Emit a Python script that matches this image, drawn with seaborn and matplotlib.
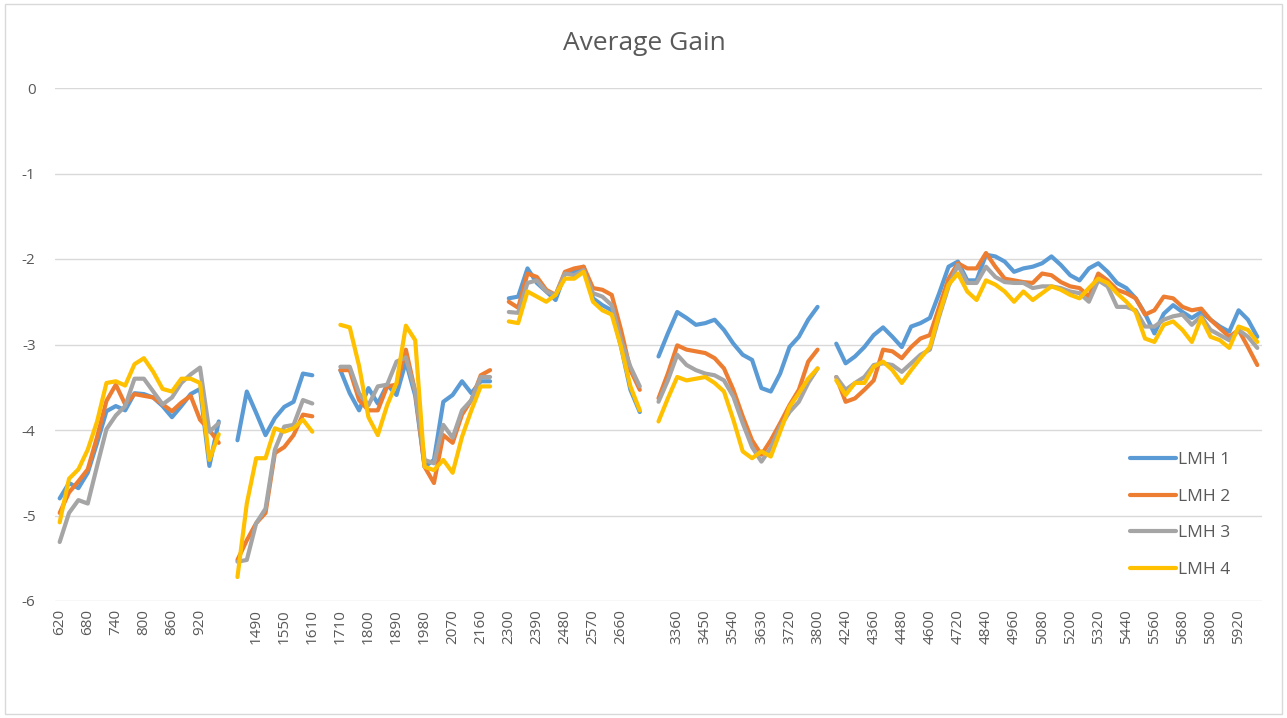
import numpy as np
import pandas as pd
import matplotlib.pyplot as plt
import seaborn as sns
from matplotlib.patches import Rectangle

# category labels ("" = empty row in the sheet, gives a gap in the lines)
categories = [
    "620", "640", "660", "680", "700", "720", "740", "760", "780", "800", "820", "840", "860", "880", "900", "920", "940", "960",
    "",
    "1450", "1470", "1490", "1510", "1530", "1550", "1570", "1590", "1610",
    "", "",
    "1710", "1740", "1770", "1800", "1830", "1860", "1890", "1920", "1950", "1980", "2010", "2040", "2070", "2100", "2130", "2160", "2190",
    "",
    "2300", "2330", "2360", "2390", "2420", "2450", "2480", "2510", "2540", "2570", "2600", "2630", "2660", "2690", "2720",
    "",
    "3300", "3330", "3360", "3390", "3420", "3450", "3480", "3510", "3540", "3570", "3600", "3630", "3660", "3690", "3720", "3740", "3770", "3800",
    "",
    "4200", "4240", "4280", "4320", "4360", "4400", "4440", "4480", "4520", "4560", "4600", "4640", "4680", "4720", "4760", "4800",
    "4840", "4880", "4920", "4960", "5000", "5040", "5080", "5120", "5160", "5200", "5240", "5280", "5320", "5360", "5400", "5440",
    "5480", "5520", "5560", "5600", "5640", "5680", "5720", "5760", "5800", "5840", "5880", "5920", "5960", "6000",
]

lmh1 = [
    -4.80, -4.62, -4.68, -4.50, -4.15, -3.78, -3.72, -3.77, -3.57, -3.58, -3.62, -3.72, -3.85, -3.72, -3.58, -3.52, -4.42, -3.90,
    None,
    -4.12, -3.55, -3.80, -4.06, -3.86, -3.73, -3.67, -3.34, -3.36,
    None, None,
    -3.30, -3.57, -3.77, -3.51, -3.69, -3.47, -3.59, -3.20, -3.60, -4.43, -4.35, -3.67, -3.59, -3.43, -3.57, -3.43, -3.43,
    None,
    -2.46, -2.44, -2.11, -2.28, -2.38, -2.48, -2.17, -2.15, -2.09, -2.46, -2.54, -2.60, -3.03, -3.53, -3.79,
    None,
    -3.14, -2.87, -2.62, -2.69, -2.77, -2.75, -2.71, -2.83, -2.99, -3.12, -3.18, -3.51, -3.55, -3.34, -3.03, -2.91, -2.71, -2.56,
    None,
    -2.99, -3.22, -3.14, -3.03, -2.89, -2.80, -2.91, -3.03, -2.79, -2.75, -2.69, -2.40, -2.09, -2.03, -2.25, -2.25,
    -1.95, -1.97, -2.03, -2.15, -2.11, -2.09, -2.05, -1.97, -2.07, -2.19, -2.25, -2.11, -2.05, -2.15, -2.28, -2.34,
    -2.46, -2.64, -2.87, -2.64, -2.54, -2.62, -2.69, -2.62, -2.71, -2.79, -2.85, -2.60, -2.71, -2.91,
]

lmh2 = [
    -4.97, -4.73, -4.60, -4.46, -4.08, -3.66, -3.47, -3.70, -3.58, -3.60, -3.62, -3.70, -3.78, -3.68, -3.60, -3.88, -4.00, -4.15,
    None,
    -5.52, -5.29, -5.09, -4.97, -4.27, -4.20, -4.06, -3.82, -3.84,
    None, None,
    -3.30, -3.30, -3.65, -3.77, -3.77, -3.49, -3.47, -3.06, -3.55, -4.43, -4.62, -4.06, -4.15, -3.82, -3.65, -3.36, -3.30,
    None,
    -2.50, -2.57, -2.17, -2.21, -2.36, -2.42, -2.15, -2.11, -2.09, -2.34, -2.36, -2.42, -2.83, -3.30, -3.53,
    None,
    -3.63, -3.34, -3.01, -3.06, -3.08, -3.10, -3.16, -3.28, -3.53, -3.84, -4.12, -4.29, -4.12, -3.92, -3.71, -3.53, -3.20, -3.06,
    None,
    -3.38, -3.67, -3.63, -3.53, -3.42, -3.06, -3.08, -3.16, -3.03, -2.93, -2.89, -2.56, -2.23, -2.05, -2.11, -2.11,
    -1.93, -2.09, -2.23, -2.25, -2.27, -2.28, -2.17, -2.19, -2.27, -2.32, -2.34, -2.44, -2.17, -2.25, -2.36, -2.40,
    -2.46, -2.65, -2.60, -2.44, -2.46, -2.56, -2.60, -2.58, -2.71, -2.81, -2.91, -2.83, -3.03, -3.24,
]

lmh3 = [
    -5.31, -4.97, -4.82, -4.86, -4.42, -3.99, -3.83, -3.72, -3.40, -3.40, -3.55, -3.70, -3.62, -3.45, -3.35, -3.27, -4.02, -3.92,
    None,
    -5.54, -5.52, -5.09, -4.92, -4.23, -3.96, -3.94, -3.65, -3.69,
    None, None,
    -3.26, -3.26, -3.57, -3.71, -3.49, -3.47, -3.20, -3.15, -3.55, -4.35, -4.39, -3.94, -4.09, -3.77, -3.65, -3.38, -3.38,
    None,
    -2.62, -2.63, -2.28, -2.25, -2.38, -2.42, -2.17, -2.19, -2.13, -2.40, -2.44, -2.54, -2.95, -3.26, -3.49,
    None,
    -3.67, -3.42, -3.12, -3.24, -3.30, -3.34, -3.36, -3.42, -3.61, -3.92, -4.20, -4.37, -4.21, -3.96, -3.79, -3.67, -3.45, -3.28,
    None,
    -3.38, -3.53, -3.45, -3.38, -3.24, -3.22, -3.24, -3.32, -3.22, -3.12, -3.06, -2.67, -2.32, -2.07, -2.28, -2.28,
    -2.09, -2.21, -2.27, -2.28, -2.28, -2.34, -2.32, -2.32, -2.34, -2.38, -2.40, -2.50, -2.25, -2.32, -2.56, -2.56,
    -2.60, -2.79, -2.79, -2.71, -2.67, -2.65, -2.77, -2.67, -2.83, -2.89, -2.95, -2.83, -2.91, -3.04,
]

lmh4 = [
    -5.08, -4.57, -4.46, -4.23, -3.90, -3.45, -3.43, -3.48, -3.23, -3.16, -3.32, -3.52, -3.55, -3.40, -3.40, -3.45, -4.35, -4.05,
    None,
    -5.72, -4.86, -4.33, -4.33, -3.98, -4.02, -3.98, -3.88, -4.02,
    None, None,
    -2.77, -2.80, -3.25, -3.85, -4.06, -3.71, -3.45, -2.78, -2.95, -4.43, -4.47, -4.35, -4.50, -4.08, -3.77, -3.49, -3.49,
    None,
    -2.73, -2.75, -2.38, -2.44, -2.50, -2.42, -2.23, -2.23, -2.15, -2.50, -2.60, -2.65, -3.03, -3.49, -3.77,
    None,
    -3.90, -3.63, -3.38, -3.42, -3.40, -3.38, -3.45, -3.55, -3.88, -4.25, -4.33, -4.25, -4.31, -4.02, -3.73, -3.57, -3.40, -3.28,
    None,
    -3.42, -3.59, -3.45, -3.45, -3.26, -3.20, -3.30, -3.45, -3.30, -3.16, -3.03, -2.64, -2.30, -2.17, -2.38, -2.48,
    -2.25, -2.30, -2.38, -2.50, -2.38, -2.48, -2.40, -2.32, -2.36, -2.42, -2.46, -2.34, -2.23, -2.28, -2.40, -2.50,
    -2.62, -2.93, -2.97, -2.77, -2.73, -2.83, -2.97, -2.69, -2.91, -2.95, -3.04, -2.79, -2.83, -2.97,
]

series_names = ["LMH 1", "LMH 2", "LMH 3", "LMH 4"]
colors = ["#5B9BD5", "#ED7D31", "#A5A5A5", "#FFC000"]

# long format, one "unit" per unbroken run so the gaps stay open
rows = []
for name, vals in zip(series_names, [lmh1, lmh2, lmh3, lmh4]):
    seg = 0
    for i, v in enumerate(vals):
        if v is None:
            seg += 1
            continue
        rows.append({"pos": i, "gain": v, "series": name, "seg": seg})
df = pd.DataFrame(rows)

sns.set_style("white")
plt.rcParams["font.family"] = ["Open Sans", "DejaVu Sans"]

fig = plt.figure(figsize=(12.87, 7.18), dpi=100)
ax = fig.add_axes([55 / 1287, 117 / 718, 1207 / 1287, 513 / 718])

sns.lineplot(data=df, x="pos", y="gain", hue="series", units="seg", estimator=None,
             palette=colors, linewidth=3.0, ax=ax, sort=False)
for line in ax.lines:
    line.set_solid_capstyle("round")
    line.set_solid_joinstyle("round")

ax.set_xlim(-0.5, len(categories) - 0.5)
ax.set_ylim(-6, 0)
ax.set_yticks(range(-6, 1))
ax.set_yticklabels([str(t) for t in range(-6, 1)])
ticks = list(range(0, len(categories), 3))
ax.set_xticks(ticks)
ax.set_xticklabels([categories[t] for t in ticks], rotation=90)
ax.tick_params(axis="both", length=0, labelsize=11, colors="#595959")
ax.tick_params(axis="y", pad=14)
ax.tick_params(axis="x", pad=6)
ax.grid(True, axis="y", color="#d9d9d9", linewidth=1)
ax.set_axisbelow(True)
for s in ax.spines.values():
    s.set_visible(False)
ax.set_xlabel("")
ax.set_ylabel("")

fig.text(0.501, 0.94, "Average Gain", ha="center", va="center", fontsize=19, color="#595959")

handles, labels = ax.get_legend_handles_labels()
ax.legend(handles, labels, loc="upper left", bbox_to_anchor=(0.891, 0.290), frameon=False,
          fontsize=12.5, labelcolor="#595959", handlelength=2.6, handletextpad=0.15,
          labelspacing=1.17, borderpad=0, borderaxespad=0)

fig.patches.append(Rectangle((0.004, 0.006), 0.992, 0.988, transform=fig.transFigure,
                             fill=False, edgecolor="#d9d9d9", linewidth=1))

plt.savefig("out.png", dpi=100)
